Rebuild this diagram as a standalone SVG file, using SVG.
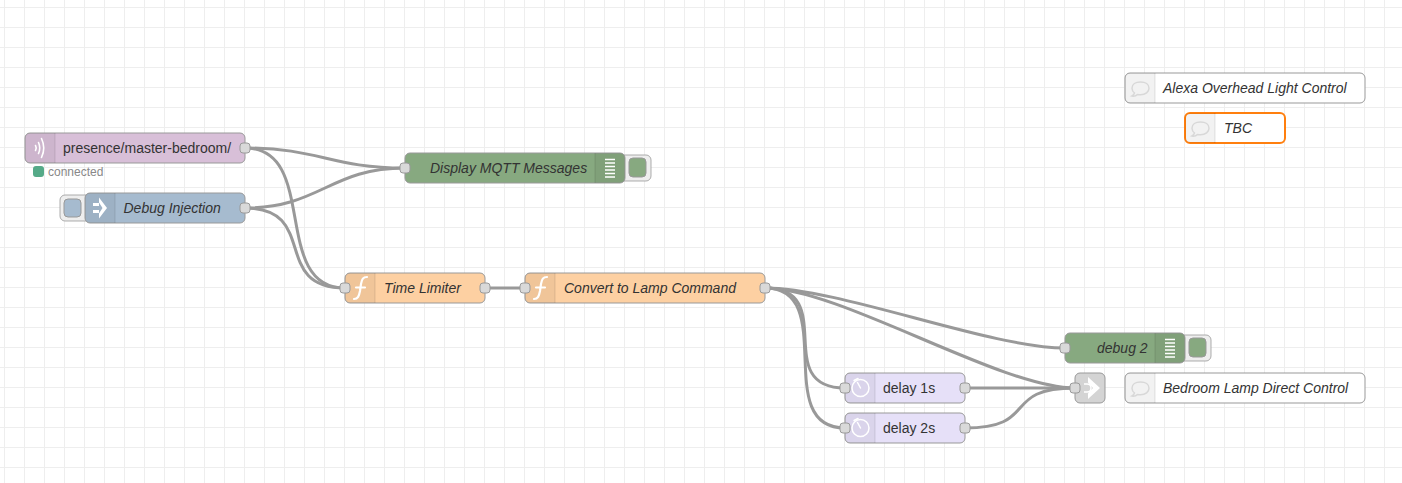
<svg xmlns="http://www.w3.org/2000/svg" width="1402" height="483" viewBox="0 0 1402 483">
<style>
text{font-family:"Liberation Sans",Arial,sans-serif;font-size:14px;fill:#333}
.i{font-style:italic}
.b{stroke:#999;stroke-width:1}
.sec{fill:#000;fill-opacity:.05}
.div{stroke:#000;stroke-opacity:.1;stroke-width:1}
.port{fill:#d9d9d9;stroke:#999;stroke-width:1}
.wire{fill:none;stroke:#999;stroke-width:3}
.btn{fill:#eee;stroke:#999;stroke-opacity:.8;stroke-width:1}
.ic{fill:none;stroke:#fff;stroke-linecap:round}
.grid{stroke:#eee;stroke-width:1;fill:none}
</style>
<defs>
<rect id="port" class="port" x="-5" y="-5" width="10" height="10" rx="3" ry="3"/>
<g id="ifn"><path class="ic" stroke-width="2.200" d="M9 26C13 26 14 23 15 18L16 11C17 6 18 4 22 4M11 14.500H20"/></g>
<g id="idbg"><path class="ic" stroke-width="1.500" d="M10 6.500H20M10 10H20M10 13.500H20M10 17H20M10 20.500H20M10 24H20" style="stroke-linecap:butt"/></g>
<g id="iclk"><circle class="ic" stroke-width="1.500" cx="15.500" cy="15" r="8.500"/><path class="ic" stroke-width="1.500" d="M15.500 15L12.500 9.500M9 7.500L13 5.500"/></g>
<g id="icm"><path fill="none" stroke="#d8d8d8" stroke-width="1.500" d="M9.500 20C9 21.500 8 22.500 7 23C9.500 23.500 11.500 22.500 12.500 21.500C13.500 21.700 14.500 21.800 15.500 21.800C20.500 21.800 24 18.800 24 15.200C24 11.500 20.500 9 15.500 9C10.500 9 7 11.500 7 15.200C7 17 8 18.800 9.500 20Z"/></g>
</defs>
<path class="grid" d="M4.500 0V483M24.500 0V483M44.500 0V483M64.500 0V483M84.500 0V483M104.500 0V483M124.500 0V483M144.500 0V483M164.500 0V483M184.500 0V483M204.500 0V483M224.500 0V483M244.500 0V483M264.500 0V483M284.500 0V483M304.500 0V483M324.500 0V483M344.500 0V483M364.500 0V483M384.500 0V483M404.500 0V483M424.500 0V483M444.500 0V483M464.500 0V483M484.500 0V483M504.500 0V483M524.500 0V483M544.500 0V483M564.500 0V483M584.500 0V483M604.500 0V483M624.500 0V483M644.500 0V483M664.500 0V483M684.500 0V483M704.500 0V483M724.500 0V483M744.500 0V483M764.500 0V483M784.500 0V483M804.500 0V483M824.500 0V483M844.500 0V483M864.500 0V483M884.500 0V483M904.500 0V483M924.500 0V483M944.500 0V483M964.500 0V483M984.500 0V483M1004.500 0V483M1024.500 0V483M1044.500 0V483M1064.500 0V483M1084.500 0V483M1104.500 0V483M1124.500 0V483M1144.500 0V483M1164.500 0V483M1184.500 0V483M1204.500 0V483M1224.500 0V483M1244.500 0V483M1264.500 0V483M1284.500 0V483M1304.500 0V483M1324.500 0V483M1344.500 0V483M1364.500 0V483M1384.500 0V483"/>
<path class="grid" d="M0 7.500H1402M0 27.500H1402M0 47.500H1402M0 67.500H1402M0 87.500H1402M0 107.500H1402M0 127.500H1402M0 147.500H1402M0 167.500H1402M0 187.500H1402M0 207.500H1402M0 227.500H1402M0 247.500H1402M0 267.500H1402M0 287.500H1402M0 307.500H1402M0 327.500H1402M0 347.500H1402M0 367.500H1402M0 387.500H1402M0 407.500H1402M0 427.500H1402M0 447.500H1402M0 467.500H1402"/>
<g id="connectors">
<path class="wire" d="M245 148C320 148 330 168 405 168"/>
<path class="wire" d="M245 208C320 208 330 168 405 168"/>
<path class="wire" d="M245 148C320 148 270 288 345 288"/>
<path class="wire" d="M245 208C320 208 270 288 345 288"/>
<path class="wire" d="M485 288H525"/>
<path class="wire" d="M765 288C840 288 990 348 1065 348"/>
<path class="wire" d="M765 288C840 288 1000 388 1075 388"/>
<path class="wire" d="M765 288C840 288 770 388 845 388"/>
<path class="wire" d="M765 288C840 288 770 428 845 428"/>
<path class="wire" d="M965 388H1075"/>
<path class="wire" d="M965 428C1040 428 1000 388 1075 388"/>
</g>
<g id="mqtt-in" transform="translate(25 133)">
<rect class="b" width="220" height="30" rx="5" fill="#d8bfd8"/>
<path class="sec" d="M5 0H30V30H5A5 5 0 0 1 0 25V5A5 5 0 0 1 5 0Z"/><path class="div" d="M30 0V30"/>
<path class="ic" stroke-width="1.600" d="M10.500 12.500Q12 15 10.500 17.500M13.500 9.500Q16 15 13.500 20.500M16.500 5.500Q21 15 16.500 24.500"/>
<text x="38" y="20">presence/master-bedroom/</text>
<use href="#port" x="220" y="15"/>
<rect x="8" y="33" width="11" height="11" rx="3" fill="#5a8"/>
<text x="23" y="43" style="font-size:12px;fill:#888">connected</text>
</g>
<g id="inject" transform="translate(85 193)">
<rect class="btn" x="-25" y="2" width="32" height="26" rx="5"/>
<rect class="b" x="-21" y="6" width="17" height="18" rx="4" fill="#a6bbcf"/>
<rect class="b" width="160" height="30" rx="5" fill="#a6bbcf"/>
<path class="sec" d="M5 0H30V30H5A5 5 0 0 1 0 25V5A5 5 0 0 1 5 0Z"/><path class="div" d="M30 0V30"/>
<path fill="#fff" d="M8 10H14V13H8ZM8 17H14V20H8ZM14 4.500L22 15L14 25.500V20.500L17.500 15L14 9.500Z"/>
<text class="i" x="38.500" y="20">Debug Injection</text>
<use href="#port" x="160" y="15"/>
</g>
<g id="debug-mqtt" transform="translate(405 153)">
<rect class="btn" x="214" y="2" width="32" height="26" rx="5"/>
<rect class="b" x="224" y="5" width="17" height="19" rx="4" fill="#87a980"/>
<rect class="b" width="220" height="30" rx="5" fill="#87a980"/>
<path class="sec" d="M190 0H215A5 5 0 0 1 220 5V25A5 5 0 0 1 215 30H190Z"/><path class="div" d="M190 0V30"/>
<use href="#idbg" x="190"/>
<text class="i" x="25" y="20">Display MQTT Messages</text>
<use href="#port" x="0" y="15"/>
</g>
<g id="fn-time" transform="translate(345 273)">
<rect class="b" width="140" height="30" rx="5" fill="#fdd0a2"/>
<path class="sec" d="M5 0H30V30H5A5 5 0 0 1 0 25V5A5 5 0 0 1 5 0Z"/><path class="div" d="M30 0V30"/>
<use href="#ifn"/>
<text class="i" x="39" y="20">Time Limiter</text>
<use href="#port" x="0" y="15"/><use href="#port" x="140" y="15"/>
</g>
<g id="fn-convert" transform="translate(525 273)">
<rect class="b" width="240" height="30" rx="5" fill="#fdd0a2"/>
<path class="sec" d="M5 0H30V30H5A5 5 0 0 1 0 25V5A5 5 0 0 1 5 0Z"/><path class="div" d="M30 0V30"/>
<use href="#ifn"/>
<text class="i" x="39" y="20">Convert to Lamp Command</text>
<use href="#port" x="0" y="15"/><use href="#port" x="240" y="15"/>
</g>
<g id="debug-2" transform="translate(1065 333)">
<rect class="btn" x="114" y="2" width="32" height="26" rx="5"/>
<rect class="b" x="124" y="5" width="17" height="19" rx="4" fill="#87a980"/>
<rect class="b" width="120" height="30" rx="5" fill="#87a980"/>
<path class="sec" d="M90 0H115A5 5 0 0 1 120 5V25A5 5 0 0 1 115 30H90Z"/><path class="div" d="M90 0V30"/>
<use href="#idbg" x="90"/>
<text class="i" x="32" y="20">debug 2</text>
<use href="#port" x="0" y="15"/>
</g>
<g id="delay-1" transform="translate(845 373)">
<rect class="b" width="120" height="30" rx="5" fill="#e6e0f8"/>
<path class="sec" d="M5 0H30V30H5A5 5 0 0 1 0 25V5A5 5 0 0 1 5 0Z"/><path class="div" d="M30 0V30"/>
<use href="#iclk"/>
<text x="38" y="20">delay 1s</text>
<use href="#port" x="0" y="15"/><use href="#port" x="120" y="15"/>
</g>
<g id="delay-2" transform="translate(845 413)">
<rect class="b" width="120" height="30" rx="5" fill="#e6e0f8"/>
<path class="sec" d="M5 0H30V30H5A5 5 0 0 1 0 25V5A5 5 0 0 1 5 0Z"/><path class="div" d="M30 0V30"/>
<use href="#iclk"/>
<text x="38" y="20">delay 2s</text>
<use href="#port" x="0" y="15"/><use href="#port" x="120" y="15"/>
</g>
<g id="link-out" transform="translate(1075 373)">
<rect class="b" width="30" height="30" rx="5" fill="#d4d4d4"/>
<path fill="#fff" d="M13 4L25 15L13 26V20.500L18 15L13 9.500Z"/>
<path fill="none" stroke="#fff" stroke-width="1.500" d="M9 11H12Q16 11 16 15Q16 19 12 19H9"/>
<use href="#port" x="0" y="15"/>
</g>
<g id="comment-alexa" transform="translate(1125 73)">
<rect class="b" width="240" height="30" rx="5" fill="#fff"/>
<path class="sec" d="M5 0H30V30H5A5 5 0 0 1 0 25V5A5 5 0 0 1 5 0Z"/><path class="div" d="M30 0V30"/>
<use href="#icm"/>
<text class="i" x="38" y="20">Alexa Overhead Light Control</text>
</g>
<g id="comment-tbc" transform="translate(1185 113)">
<rect width="100" height="30" rx="5" fill="#fff" stroke="#ff7f0e" stroke-width="2"/>
<path class="sec" d="M5 0H30V30H5A5 5 0 0 1 0 25V5A5 5 0 0 1 5 0Z"/><path class="div" d="M30 0V30"/>
<use href="#icm"/>
<text class="i" x="39" y="20">TBC</text>
</g>
<g id="comment-bedroom" transform="translate(1125 373)">
<rect class="b" width="240" height="30" rx="5" fill="#fff"/>
<path class="sec" d="M5 0H30V30H5A5 5 0 0 1 0 25V5A5 5 0 0 1 5 0Z"/><path class="div" d="M30 0V30"/>
<use href="#icm"/>
<text class="i" x="38" y="20">Bedroom Lamp Direct Control</text>
</g>
</svg>
